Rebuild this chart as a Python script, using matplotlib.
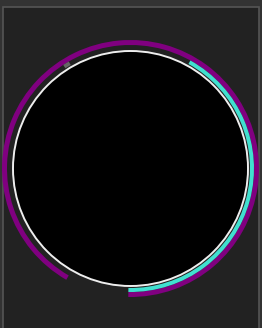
import matplotlib
matplotlib.use("Agg")
import matplotlib.pyplot as plt
from matplotlib.patches import Circle, Wedge, Rectangle

W, H = 262, 328
CX, CY = 130.5, 328 - 168.5  # dial centre, pixel coords (y up)

# arcs as (start, end) in degrees, counterclockwise from 3 o'clock
ring_names = ['outer', 'inner', 'marker']
ring_starts = [-91, -91, 120]
ring_ends = [240, 61, 123]
ring_colors = ['#800080', '#40e0d0', '#666666']
ring_radii = [128.5, 123.5, 123.5]
ring_widths = [5.0, 4.0, 4.0]

fig = plt.figure(figsize=(W / 100, H / 100), dpi=100)
fig.patch.set_facecolor('#333333')
ax = fig.add_axes([0, 0, 1, 1])
ax.set_xlim(0, W)
ax.set_ylim(0, H)
ax.set_aspect('equal')
ax.axis('off')

# panel with a thin light frame
ax.add_patch(Rectangle((2.5, -5), 256, H - 7 + 5, facecolor='#222222',
                       edgecolor='#555555', linewidth=1.2))

# black dial with white rim
ax.add_patch(Circle((CX, CY), 117.5, facecolor='black', edgecolor='#eeeeee',
                    linewidth=1.4))

for name, t1, t2, c, r, w in zip(ring_names, ring_starts, ring_ends,
                                 ring_colors, ring_radii, ring_widths):
    ax.add_patch(Wedge((CX, CY), r, t1, t2, width=w, facecolor=c,
                       edgecolor='none'))

fig.savefig('out.png', dpi=100, facecolor=fig.get_facecolor())
